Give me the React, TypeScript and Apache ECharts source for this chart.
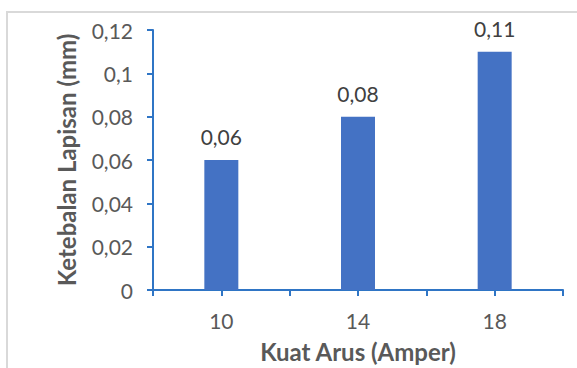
import React, { useEffect, useRef } from "react";
import * as echarts from "echarts";

const categories = [10, 14, 18];
const values = [0.06, 0.08, 0.11];
const yTicks = [0, 0.02, 0.04, 0.06, 0.08, 0.1, 0.12];

const fmt = (v: number) => String(Math.round(v * 100) / 100).replace(".", ",");

export default function App() {
  const ref = useRef<HTMLDivElement>(null);
  useEffect(() => {
    if (!ref.current) return;
    const chart = echarts.init(ref.current, undefined, { renderer: "svg" });
    const axisColor = "#2F75C5";
    chart.setOption({
      animation: false,
      textStyle: { fontFamily: "Lato" },
      graphic: [
        {
          type: "rect",
          shape: { x: 7, y: 12, width: 600, height: 400 },
          style: { fill: "none", stroke: "#D9D9D9", lineWidth: 2 },
          silent: true,
        },
      ],
      grid: { left: 153, top: 30, right: 14, bottom: 76 },
      xAxis: {
        type: "value",
        min: 8,
        max: 20,
        interval: 2,
        name: "Kuat Arus (Amper)",
        nameLocation: "middle",
        nameGap: 49,
        nameTextStyle: { fontSize: 24, fontWeight: "bold", color: "#595959", fontFamily: "Lato" },
        axisLine: { show: true, lineStyle: { color: axisColor, width: 2 } },
        axisTick: { show: true, length: 6, lineStyle: { color: axisColor, width: 2 } },
        axisLabel: {
          formatter: (v: number) => (categories.includes(v) ? String(v) : ""),
          fontSize: 21,
          color: "#595959",
          margin: 20,
          showMinLabel: true,
          showMaxLabel: true,
        },
        splitLine: { show: false },
      },
      yAxis: {
        type: "value",
        min: yTicks[0],
        max: yTicks[yTicks.length - 1],
        interval: 0.02,
        name: "Ketebalan Lapisan (mm)",
        nameLocation: "middle",
        nameRotate: 90,
        nameGap: 75,
        nameTextStyle: { fontSize: 24, fontWeight: "bold", color: "#595959", fontFamily: "Lato" },
        axisLine: { show: true, lineStyle: { color: axisColor, width: 2 } },
        axisTick: { show: true, length: 6, lineStyle: { color: axisColor, width: 2 } },
        axisLabel: { formatter: fmt, fontSize: 21, color: "#595959", margin: 20 },
        splitLine: { show: false },
      },
      series: [
        {
          type: "bar",
          data: categories.map((c, i) => [c, values[i]]),
          barWidth: 34,
          itemStyle: { color: "#4472C4" },
          label: {
            show: true,
            position: "top",
            distance: 13,
            formatter: (p: any) => fmt(p.value[1]),
            fontSize: 21,
            color: "#404040",
            fontFamily: "Lato",
          },
        },
      ],
    });
    return () => chart.dispose();
  }, []);
  return (
    <div
      ref={ref}
      style={{ position: "fixed", left: 0, top: 0, width: 577, height: 368, background: "#fff" }}
    />
  );
}
